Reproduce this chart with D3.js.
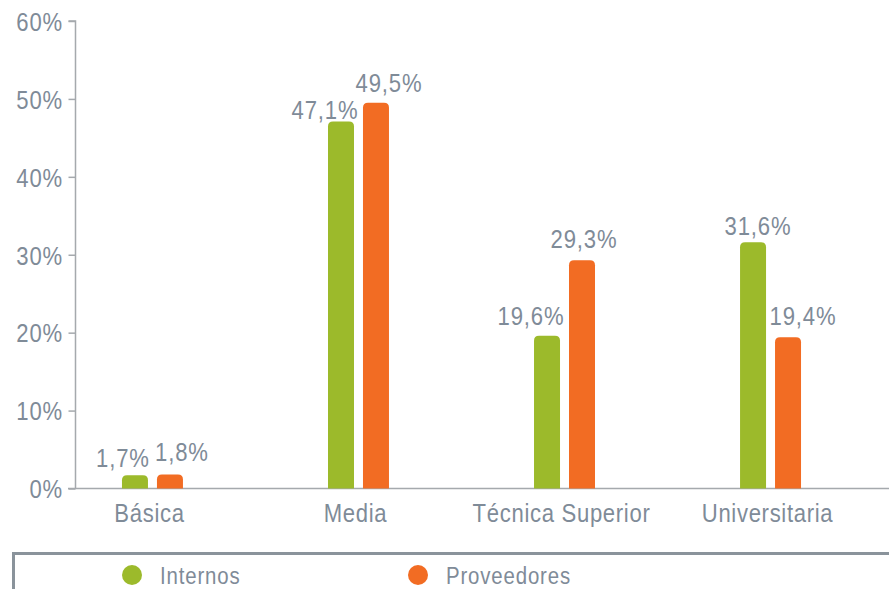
<!DOCTYPE html>
<html>
<head>
<meta charset="utf-8">
<script src="https://cdn.jsdelivr.net/npm/d3@7"></script>
<style>
  html, body { margin: 0; padding: 0; background: #ffffff; }
  svg text { font-family: "Liberation Sans", Arial, sans-serif; fill: #7f8b98; }
</style>
</head>
<body>
<svg id="chart" width="889" height="589"></svg>
<script>
// ---- data ----
const categories = ["Básica", "Media", "Técnica Superior", "Universitaria"];
const seriesNames = ["Internos", "Proveedores"];
const internos    = [1.7, 47.1, 19.6, 31.6];
const proveedores = [1.8, 49.5, 29.3, 19.4];
const yTicks = [0, 10, 20, 30, 40, 50, 60];
const colors = ["#9cba2b", "#f26c23"];

// label nudges (layout only): [dx, gap above bar] per category, per series
const labelNudge = [
  [[-12, 8], [12, 13]],
  [[-16, 3], [13, 11]],
  [[-16, 11], [2, 12]],
  [[5, 7], [15, 12]]
];

const SX = 0.85; // horizontal condensing of the text face
const fmt = v => d3.format(".1f")(v).replace(".", ",") + "%";

const svg = d3.select("#chart");
const axisColor = "#a5a9ad";

// place a condensed text at (px, py)
function condensed(sel, px, py) {
  sel.attr("x", 0).attr("y", 0)
     .attr("transform", (d, i, n) => `translate(${px(d, i, n)},${py(d, i, n)}) scale(${SX},1)`);
}

const y = d3.scaleLinear().domain([0, 60]).range([488.5, 21]);
const x = d3.scaleBand().domain(categories).range([75, 848]).paddingInner(0.704).paddingOuter(0.228);
const xs = d3.scaleBand().domain(seriesNames).range([0, x.bandwidth()]).paddingInner(0.257);

// y axis
const yAxis = d3.axisLeft(y).tickValues(yTicks).tickSize(7).tickPadding(5).tickFormat(d => d + "%");
const gy = svg.append("g").attr("transform", "translate(75.5,0)").call(yAxis);
gy.attr("font-family", null).attr("font-size", null);
gy.select(".domain").attr("stroke", axisColor).attr("stroke-width", 1.5).attr("d", `M-7,${y(60)}H0V${y(0)}`);
gy.selectAll(".tick line").attr("stroke", axisColor).attr("stroke-width", 1.5);
gy.selectAll(".tick text")
  .attr("font-size", 26).attr("fill", "#7f8b98").attr("dy", null)
  .style("letter-spacing", "1px")
  .call(condensed, () => -12.5, () => 9.3);

// baseline
svg.append("line").attr("x1", 68).attr("x2", 889).attr("y1", y(0)).attr("y2", y(0))
  .attr("stroke", axisColor).attr("stroke-width", 1.5);

// bars
const rows = categories.map((c, i) => ({cat: c, i, vals: [internos[i], proveedores[i]]}));
const r = 5;
function barPath(x0, w, yTop, yBase) {
  return `M${x0},${yBase}V${yTop + r}Q${x0},${yTop} ${x0 + r},${yTop}H${x0 + w - r}Q${x0 + w},${yTop} ${x0 + w},${yTop + r}V${yBase}Z`;
}
const groups = svg.append("g").selectAll("g").data(rows).join("g")
  .attr("transform", d => `translate(${x(d.cat)},0)`);

groups.selectAll("path").data(d => d.vals.map((v, j) => ({v, j, i: d.i}))).join("path")
  .attr("d", d => barPath(xs(seriesNames[d.j]), xs.bandwidth(), y(d.v), y(0)))
  .attr("fill", d => colors[d.j]);

groups.selectAll("text.val").data(d => d.vals.map((v, j) => ({v, j, i: d.i}))).join("text")
  .attr("class", "val")
  .attr("text-anchor", "middle")
  .attr("font-size", 26)
  .style("letter-spacing", "1px")
  .text(d => fmt(d.v))
  .call(condensed,
        d => xs(seriesNames[d.j]) + xs.bandwidth() / 2 + labelNudge[d.i][d.j][0],
        d => y(d.v) - labelNudge[d.i][d.j][1]);

// category labels
svg.append("g").selectAll("text").data(categories).join("text")
  .attr("text-anchor", "middle")
  .attr("font-size", 26)
  .style("letter-spacing", "0.8px")
  .text(d => d)
  .call(condensed, d => x(d) + x.bandwidth() / 2 - 3, () => 522);

// legend frame
svg.append("path").attr("d", "M13.5,589V553.5H889").attr("fill", "none")
  .attr("stroke", "#8a939b").attr("stroke-width", 3);

const legendX = [132, 418];
const lg = svg.append("g").selectAll("g").data(seriesNames).join("g")
  .attr("transform", (d, i) => `translate(${legendX[i]},575)`);
lg.append("circle").attr("r", 10).attr("fill", (d, i) => colors[i]);
lg.append("text").attr("font-size", 24)
  .style("letter-spacing", "1px").text(d => d)
  .call(condensed, () => 28, () => 8.5);
</script>
</body>
</html>
